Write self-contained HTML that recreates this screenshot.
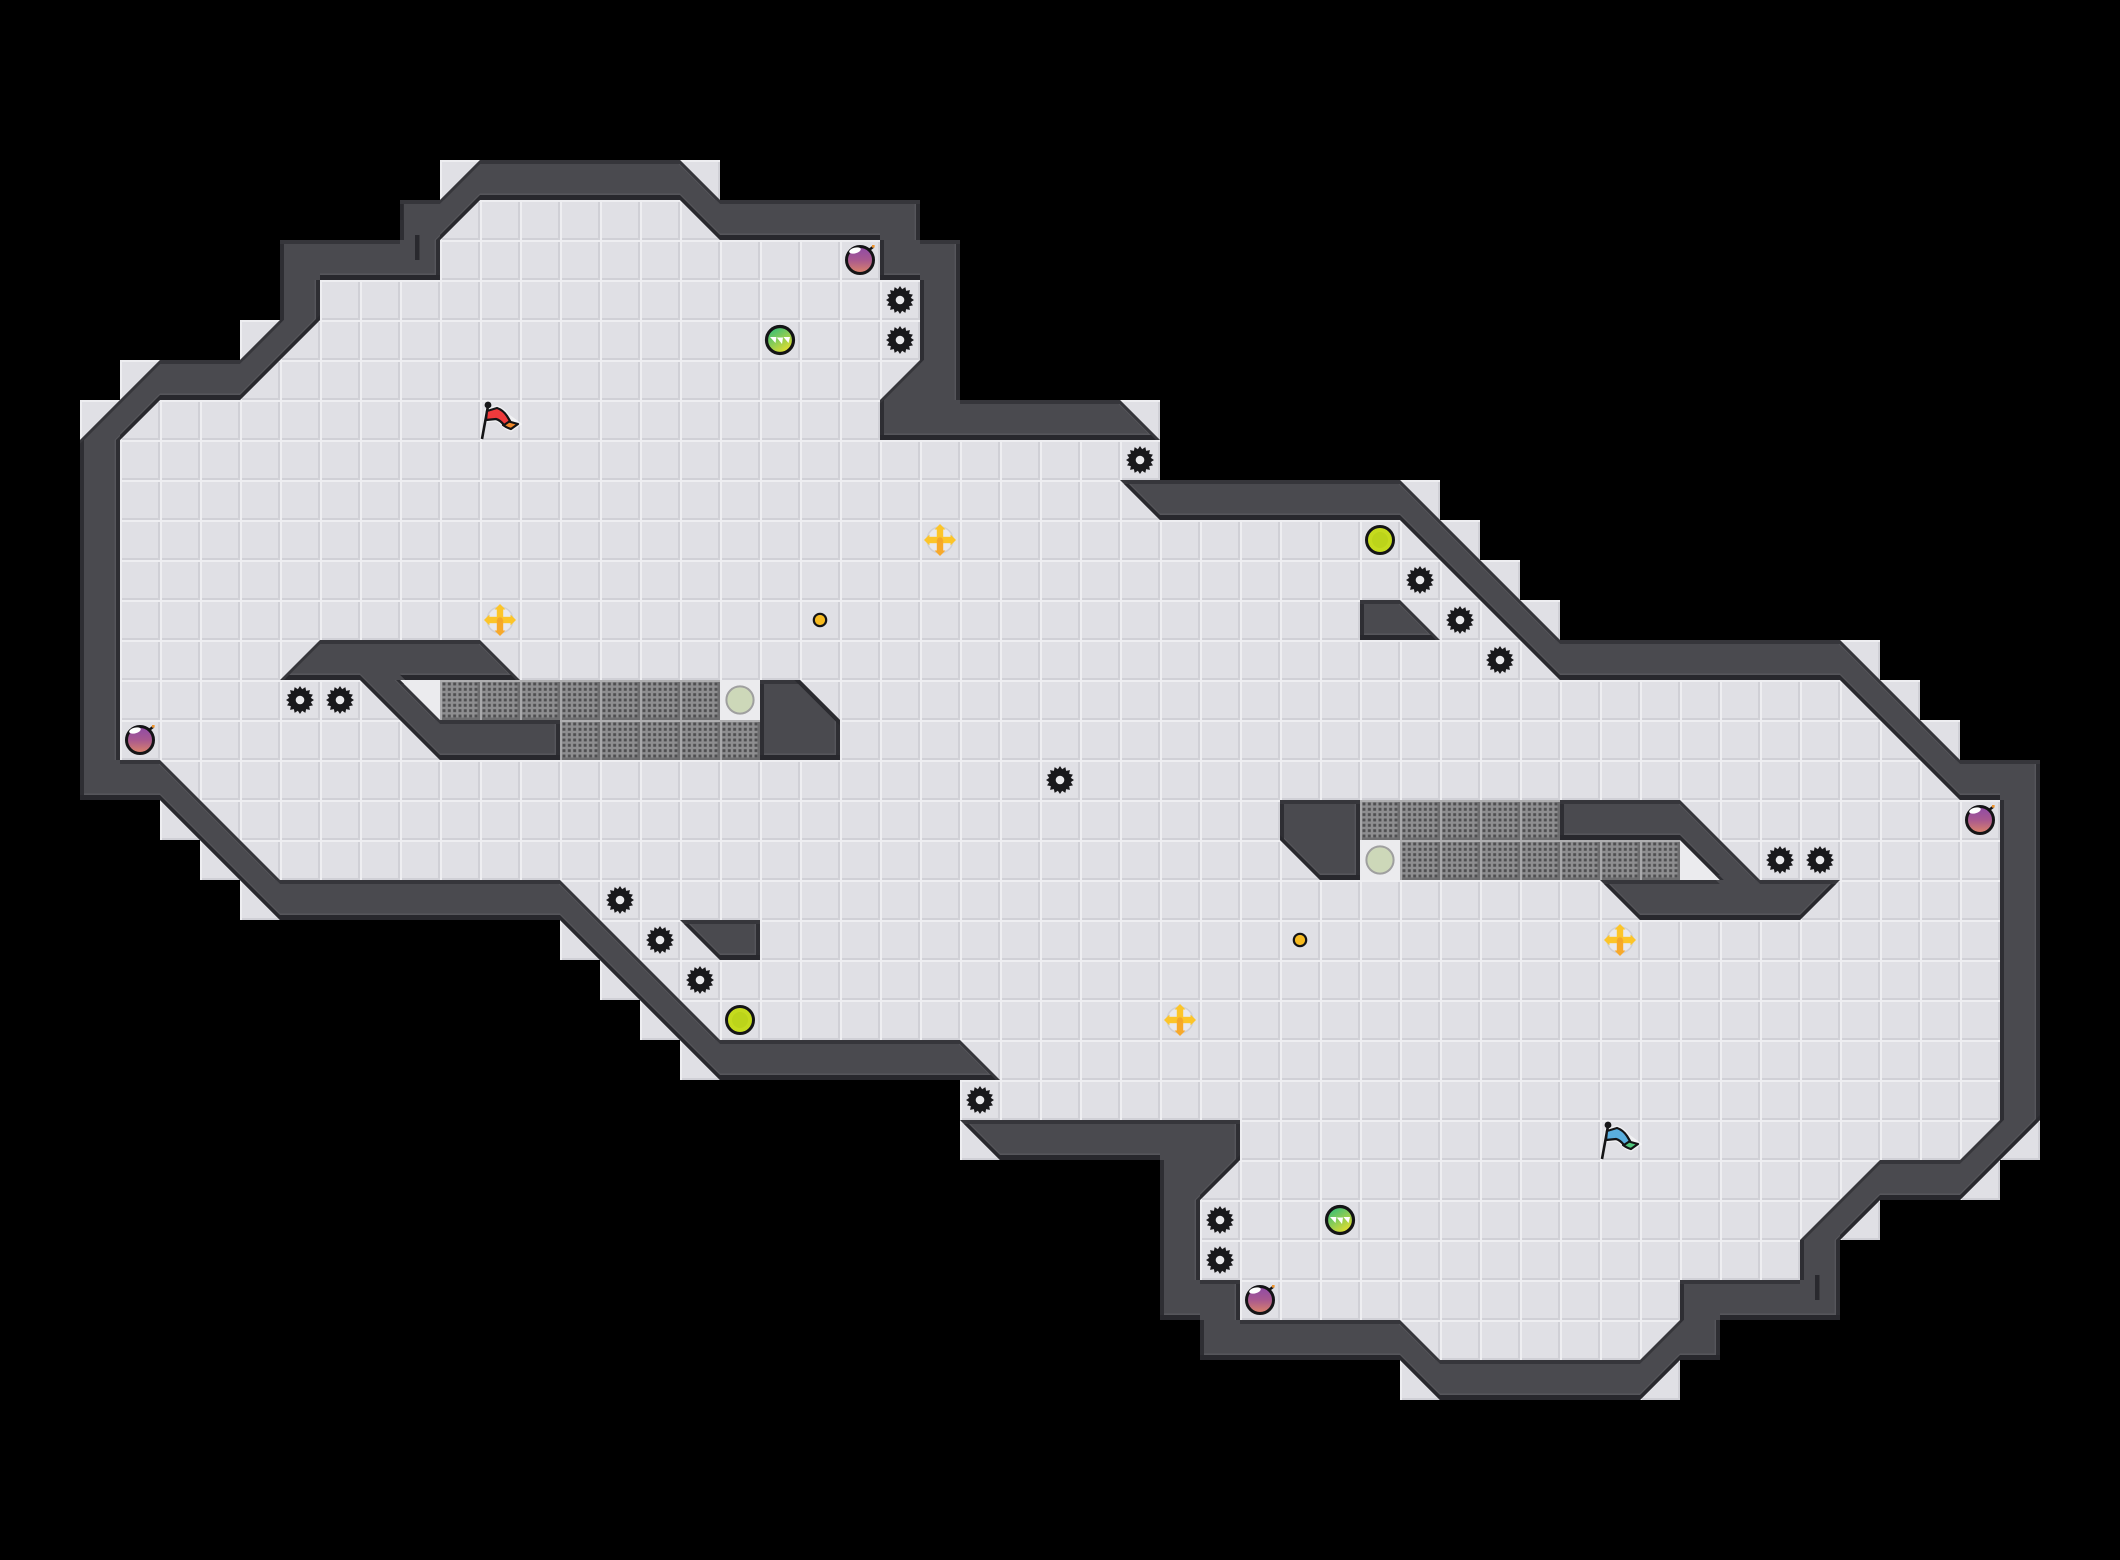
<!DOCTYPE html>
<html>
<head>
<meta charset="utf-8">
<title>Level map</title>
<style>
html,body{margin:0;padding:0;background:#000;}
svg{display:block;}
</style>
</head>
<body>
<svg xmlns="http://www.w3.org/2000/svg" width="2120" height="1560" viewBox="0 0 2120 1560">
<defs>
  <pattern id="cell" patternUnits="userSpaceOnUse" width="1" height="1">
    <rect width="1" height="1" fill="#e0e0e5"/>
    <rect x="0.95" y="0" width="0.05" height="1" fill="#d0d0d6"/>
    <rect x="0" y="0.95" width="1" height="0.05" fill="#d0d0d6"/>
    <rect x="0" y="0" width="0.05" height="1" fill="#eeeef1"/>
    <rect x="0" y="0" width="1" height="0.05" fill="#eeeef1"/>
  </pattern>
  <pattern id="gd" patternUnits="userSpaceOnUse" width="5.333" height="5.333" x="1.33" y="1.33">
    <rect x="1.2" y="1.2" width="2.9" height="2.9" fill="#4e4e50"/>
  </pattern>
  <pattern id="gt" patternUnits="userSpaceOnUse" width="40" height="40">
    <rect width="40" height="40" fill="#8e8e90"/>
    <rect x="1.33" y="1.33" width="37.33" height="37.33" fill="url(#gd)"/>
    <rect x="37.5" y="0" width="2.5" height="40" fill="#6e6e70"/>
    <rect x="0" y="37.5" width="40" height="2.5" fill="#6e6e70"/>
    <rect x="0" y="0" width="2" height="40" fill="#a8a8aa"/>
    <rect x="0" y="0" width="40" height="2" fill="#aeaeb0"/>
  </pattern>
  <path id="w" d="M2 11L4 9L6 9L7 8L7 6L10 6L10 5L11 5L12 4L17 4L18 5L23 5L23 6L24 6L24 10L28 10L29 11L22 11L22 10L23 9L23 7L22 7L22 6L18 6L17 5L12 5L11 6L11 7L8 7L8 8L6 10L4 10L3 11L3 19L4 19L7 22L14 22L18 26L24 26L25 27L18 27L14 23L7 23L4 20L2 20Z
  M51 28L49 30L47 30L46 31L46 33L43 33L43 34L42 34L41 35L36 35L35 34L30 34L30 33L29 33L29 29L25 29L24 28L31 28L31 29L30 30L30 32L31 32L31 33L35 33L36 34L41 34L42 33L42 32L45 32L45 31L47 29L49 29L50 28L50 20L49 20L46 17L39 17L35 13L29 13L28 12L35 12L39 16L46 16L49 19L51 19Z
  M8 16L12 16L13 17L10 17L11 18L14 18L14 19L11 19L9 17L7 17Z
  M45 23L41 23L40 22L43 22L42 21L39 21L39 20L42 20L44 22L46 22Z
  M19 17L20 17L21 18L21 19L19 19Z
  M34 22L33 22L32 21L32 20L34 20Z
  M17 23L19 23L19 24L18 24Z
  M36 16L34 16L34 15L35 15Z"/>
  <clipPath id="c0"><use href="#w"/></clipPath>
  <clipPath id="c1"><use href="#w" transform="translate(0,0.1)"/></clipPath>
  <clipPath id="c2"><use href="#w" transform="translate(0,-0.125)"/></clipPath>
  <clipPath id="c3"><use href="#w" transform="translate(0.1,0)"/></clipPath>
  <clipPath id="c4"><use href="#w" transform="translate(-0.1,0)"/></clipPath>
  <clipPath id="c5"><use href="#w" transform="translate(0,-0.165)"/></clipPath>
  <clipPath id="c6"><use href="#w" transform="translate(-0.135,0)"/></clipPath>

  <g id="gear">
    <polygon fill="#19191c" points="14,0 10.8,2.15 12.93,5.36 9.15,6.11 9.9,9.9 6.11,9.15 5.36,12.93 2.15,10.8 0,14 -2.15,10.8 -5.36,12.93 -6.11,9.15 -9.9,9.9 -9.15,6.11 -12.93,5.36 -10.8,2.15 -14,0 -10.8,-2.15 -12.93,-5.36 -9.15,-6.11 -9.9,-9.9 -6.11,-9.15 -5.36,-12.93 -2.15,-10.8 0,-14 2.15,-10.8 5.36,-12.93 6.11,-9.15 9.9,-9.9 9.15,-6.11 12.93,-5.36 10.8,-2.15"/>
    <circle r="4.3" fill="#e9e9ec"/>
  </g>
  <linearGradient id="bombG" x1="0" y1="0" x2="0" y2="1">
    <stop offset="0" stop-color="#8f4aa8"/>
    <stop offset="0.5" stop-color="#a9598f"/>
    <stop offset="1" stop-color="#dd8568"/>
  </linearGradient>
  <g id="bomb">
    <circle r="13.5" fill="url(#bombG)" stroke="#141416" stroke-width="3"/>
    <ellipse cx="-5" cy="-9.5" rx="6" ry="2.8" fill="#ffffff" transform="rotate(-15 -5 -9.5)"/>
    <path d="M9 -10L13 -13" stroke="#141416" stroke-width="2.4"/>
    <rect x="12" y="-15" width="2.6" height="2.6" fill="#f0942a"/>
  </g>
  <linearGradient id="ballG" x1="0.2" y1="0.05" x2="0.8" y2="0.95">
    <stop offset="0" stop-color="#35bf78"/>
    <stop offset="0.45" stop-color="#86cb58"/>
    <stop offset="1" stop-color="#ece02a"/>
  </linearGradient>
  <g id="ball">
    <circle r="13.5" fill="url(#ballG)" stroke="#141416" stroke-width="3.2"/>
    <polygon fill="#ffffff" points="-10,-3 -3.6,-3 -4.5,3"/>
    <polygon fill="#ffffff" points="-3.2,-2.5 3,-2.5 2,4"/>
    <polygon fill="#ffffff" points="3.4,-3 10,-3 8.5,3"/>
  </g>
  <g id="lime">
    <circle r="13.5" fill="#c5db1e" stroke="#141416" stroke-width="3"/>
    <circle r="8" fill="#bcd41a"/>
  </g>
  <g id="pale">
    <circle r="13.6" fill="#cdd8b9" stroke="#9f9f9f" stroke-width="2"/>
  </g>
  <g id="cross">
    <circle r="13" fill="#e9e9ed" stroke="#cfd0d6" stroke-width="1.5"/>
    <rect x="-12" y="-3.2" width="24" height="6.4" fill="#fcc52a"/>
    <rect x="-3.2" y="-12" width="6.4" height="12" fill="#fcc52a"/>
    <rect x="-3.2" y="0" width="6.4" height="12" fill="#f7a92a"/>
    <polygon fill="#fcc52a" points="-16,0 -10.5,-5.5 -10.5,5.5"/>
    <polygon fill="#fcc52a" points="16,0 10.5,-5.5 10.5,5.5"/>
    <polygon fill="#fcc52a" points="0,-16 -5.5,-10.5 5.5,-10.5"/>
    <polygon fill="#f7a92a" points="0,16 -5.5,10.5 5.5,10.5"/>
    <circle r="2.8" fill="#f4a62a"/>
  </g>
  <g id="dot">
    <circle r="6.2" fill="#f7bb20" stroke="#141416" stroke-width="2.2"/>
  </g>
</defs>

<rect width="2120" height="1560" fill="#000"/>

<g transform="scale(40)">
  <!-- floor -->
  <g fill="url(#cell)">
    <polygon points="2,11 4,9 6,9 7,8 7,6 10,6 10,5 11,5 12,4 17,4 18,5 23,5 23,6 24,6 24,10 28,10 29,11 29,12 35,12 39,16 46,16 49,19 51,19 51,28 49,30 47,30 46,31 46,33 43,33 43,34 42,34 41,35 36,35 35,34 30,34 30,33 29,33 29,29 25,29 24,28 24,27 18,27 14,23 7,23 4,20 2,20"/>
    <polygon points="2,10 3,10 2,11"/>
    <polygon points="3,9 4,9 3,10"/>
    <polygon points="6,8 7,8 6,9"/>
    <polygon points="11,4 12,4 11,5"/>
    <polygon points="17,4 18,4 18,5"/>
    <polygon points="28,10 29,10 29,11"/>
    <polygon points="4,20 5,21 4,21"/>
    <polygon points="5,21 6,22 5,22"/>
    <polygon points="6,22 7,23 6,23"/>
    <polygon points="14,23 15,24 14,24"/>
    <polygon points="15,24 16,25 15,25"/>
    <polygon points="16,25 17,26 16,26"/>
    <polygon points="17,26 18,27 17,27"/>
    <polygon points="51,29 50,29 51,28"/>
    <polygon points="50,30 49,30 50,29"/>
    <polygon points="47,31 46,31 47,30"/>
    <polygon points="42,35 41,35 42,34"/>
    <polygon points="36,35 35,35 35,34"/>
    <polygon points="25,29 24,29 24,28"/>
    <polygon points="49,19 48,18 49,18"/>
    <polygon points="48,18 47,17 48,17"/>
    <polygon points="47,17 46,16 47,16"/>
    <polygon points="39,16 38,15 39,15"/>
    <polygon points="38,15 37,14 38,14"/>
    <polygon points="37,14 36,13 37,13"/>
    <polygon points="36,13 35,12 36,12"/>
  </g>
  <!-- lighter cells -->
  <rect x="18" y="17" width="1" height="1" fill="#ebebee"/>
  <rect x="34" y="21" width="1" height="1" fill="#ebebee"/>
  <polygon points="10,17 11,17 11,18" fill="#ebebee"/>
  <polygon points="43,22 42,22 42,21" fill="#ebebee"/>

  <!-- walls with bevelled bands -->
  <g clip-path="url(#c0)">
    <rect width="53" height="39" fill="#36363b"/>
    <g clip-path="url(#c1)">
      <rect width="53" height="39" fill="#28282d"/>
      <g clip-path="url(#c2)">
        <rect width="53" height="39" fill="#2e2e33"/>
        <g clip-path="url(#c3)"><g clip-path="url(#c4)">
          <rect width="53" height="39" fill="#56565b"/>
          <g clip-path="url(#c5)"><g clip-path="url(#c6)">
            <rect width="53" height="39" fill="#4a4a4f"/>
          </g></g>
        </g></g>
      </g>
    </g>
  </g>
  <polygon points="20,17 21,18 21,18.14 19.86,17" fill="#2a2a2f"/>
</g>

<!-- wall marks -->
<rect x="415" y="235" width="4.5" height="25" fill="#29292e"/>
<rect x="400" y="204" width="3" height="16" fill="#2a2a2f"/>
<rect x="1815" y="1275" width="4.5" height="25" fill="#29292e"/>
<rect x="1800" y="1240" width="4" height="18" fill="#2e2e33"/>

<!-- grated tiles -->
<rect x="440" y="680" width="280" height="40" fill="url(#gt)"/>
<rect x="560" y="720" width="200" height="40" fill="url(#gt)"/>
<rect x="1360" y="800" width="200" height="40" fill="url(#gt)"/>
<rect x="1400" y="840" width="280" height="40" fill="url(#gt)"/>

<!-- gears -->
<use href="#gear" x="900" y="300"/>
<use href="#gear" x="900" y="340"/>
<use href="#gear" x="1140" y="460"/>
<use href="#gear" x="300" y="700"/>
<use href="#gear" x="340" y="700"/>
<use href="#gear" x="620" y="900"/>
<use href="#gear" x="660" y="940"/>
<use href="#gear" x="700" y="980"/>
<use href="#gear" x="980" y="1100"/>
<use href="#gear" x="1060" y="780"/>
<use href="#gear" x="1220" y="1260"/>
<use href="#gear" x="1220" y="1220"/>
<use href="#gear" x="1500" y="660"/>
<use href="#gear" x="1460" y="620"/>
<use href="#gear" x="1420" y="580"/>
<use href="#gear" x="1820" y="860"/>
<use href="#gear" x="1780" y="860"/>

<!-- bombs -->
<use href="#bomb" x="860" y="260"/>
<use href="#bomb" x="140" y="740"/>
<use href="#bomb" x="1980" y="820"/>
<use href="#bomb" x="1260" y="1300"/>

<!-- balls -->
<use href="#ball" x="780" y="340"/>
<use href="#ball" x="1340" y="1220"/>
<use href="#lime" x="1380" y="540"/>
<use href="#lime" x="740" y="1020"/>
<use href="#pale" x="740" y="700"/>
<use href="#pale" x="1380" y="860"/>

<!-- crosses -->
<use href="#cross" x="940" y="540"/>
<use href="#cross" x="500" y="620"/>
<use href="#cross" x="1180" y="1020"/>
<use href="#cross" x="1620" y="940"/>

<!-- small dots -->
<use href="#dot" x="820" y="620"/>
<use href="#dot" x="1300" y="940"/>

<!-- red flag -->
<g>
  <path d="M487 411L497 408Q503 410 507 416L518 424L511 429Q507 428 504 425Q500 420 496 419L486 420Z" fill="#fff" opacity="0.55" stroke="#fff" stroke-width="5"/>
  <path d="M488 406L482 439" stroke="#141416" stroke-width="2.6" fill="none"/>
  <circle cx="488" cy="405" r="3.4" fill="#141416"/>
  <path d="M507 421L518 424L511 429Q507 428 503 425Z" fill="#f0882a" stroke="#141416" stroke-width="2.2" stroke-linejoin="round"/>
  <path d="M487 411L497 408Q503 410 507 416L510 421L504 425Q500 420 496 419L486 420Z" fill="#ef3a3c" stroke="#141416" stroke-width="2.2" stroke-linejoin="round"/>
</g>
<!-- blue flag -->
<g transform="translate(1120,720)">
  <path d="M487 411L497 408Q503 410 507 416L518 424L511 429Q507 428 504 425Q500 420 496 419L486 420Z" fill="#fff" opacity="0.55" stroke="#fff" stroke-width="5"/>
  <path d="M488 406L482 439" stroke="#141416" stroke-width="2.6" fill="none"/>
  <circle cx="488" cy="405" r="3.4" fill="#141416"/>
  <path d="M507 421L518 424L511 429Q507 428 503 425Z" fill="#4fc77c" stroke="#141416" stroke-width="2.2" stroke-linejoin="round"/>
  <path d="M487 411L497 408Q503 410 507 416L510 421L504 425Q500 420 496 419L486 420Z" fill="#5aaede" stroke="#141416" stroke-width="2.2" stroke-linejoin="round"/>
</g>
</svg>
</body>
</html>
